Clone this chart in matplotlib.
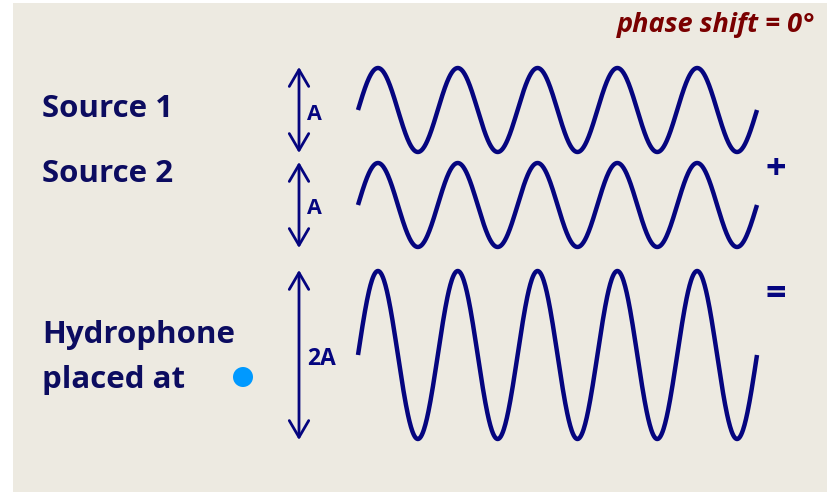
import numpy as np
import matplotlib
matplotlib.use("Agg")
import matplotlib.pyplot as plt
from matplotlib.patches import Rectangle, Circle

# diagram content
row_labels = ["Source 1", "Source 2", "Hydrophone", "placed at"]
amp_labels = ["A", "A", "2A"]
amplitudes = [1, 1, 2]          # relative amplitude of each wave
n_cycles = 5
phase_shift_deg = 0
operators = ["+", "="]

navy = "#05057F"
text_navy = "#0C0C60"
bg = "#EDEAE1"

plt.rcParams['font.family'] = ['Open Sans', 'DejaVu Sans']

fig = plt.figure(figsize=(8.27, 4.92), dpi=100)
ax = fig.add_axes([0, 0, 1, 1])
ax.set_xlim(0, 827)
ax.set_ylim(492, 0)
ax.axis("off")

# panel background
ax.add_patch(Rectangle((13, 3), 814, 489, facecolor=bg, edgecolor="none", zorder=0))

# layout (pixel space)
centers = [110, 205, 355]
unit_px = 42
x0, x1 = 358, 757
arrow_x = 299
label_y = [109, 174, 335, 380]
amp_size = [15.5, 15.5, 16.5]

t = np.linspace(0, 2 * np.pi * n_cycles, 800)
xs = np.linspace(x0, x1, t.size)
ph = np.deg2rad(phase_shift_deg)
for i, (c, a) in enumerate(zip(centers, amplitudes)):
    ax.plot(xs, c - a * unit_px * np.sin(t + (ph if i == 1 else 0)),
            color=navy, lw=3.2, solid_capstyle="butt")
    half = a * unit_px
    ax.annotate("", xy=(arrow_x, c - half - 1), xytext=(arrow_x, c + half + 1),
                arrowprops=dict(arrowstyle="<->,head_length=1.2,head_width=0.7",
                                color=navy, lw=2.0, shrinkA=0, shrinkB=0))
    ax.text(arrow_x + 8, c + 4, amp_labels[i], color=navy, fontsize=amp_size[i],
            fontweight="bold", ha="left", va="center")

for lab, y in zip(row_labels, label_y):
    ax.text(42, y, lab, color=text_navy, fontsize=22.5,
            fontweight="bold", ha="left", va="center")

ax.add_patch(Circle((243, 377), 10, facecolor="#0099FF", edgecolor="none"))

ax.text(776, 170, operators[0], color=navy, fontsize=26, fontweight="bold",
        ha="center", va="center")
ax.text(776, 295, operators[1], color=navy, fontsize=26, fontweight="bold",
        ha="center", va="center")

ax.text(815, 25, "phase shift = %d°" % phase_shift_deg, color="#7A0000",
        fontsize=19.5, fontweight="bold", fontstyle="italic", ha="right", va="center")

fig.savefig("out.png", dpi=100, facecolor="white")
